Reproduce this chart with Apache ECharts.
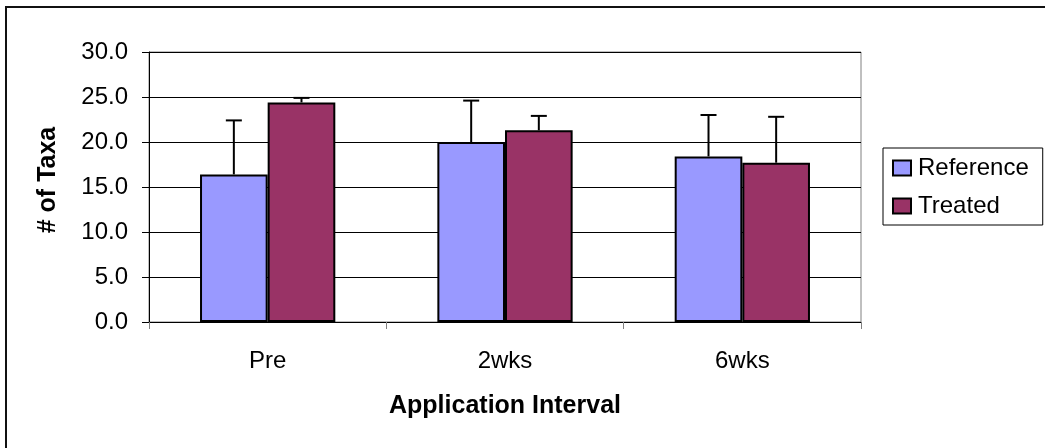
<!DOCTYPE html>
<html>
<head>
<meta charset="utf-8">
<script src="https://cdn.jsdelivr.net/npm/echarts@6/dist/echarts.min.js"></script>
<style>
html,body{margin:0;padding:0;background:#fff;}
#chart{width:1045px;height:448px;}
</style>
</head>
<body>
<div id="chart"></div>
<script>
const categories = ['Pre', '2wks', '6wks'];
const referenceMeans = [16.4, 20.0, 18.4];
const treatedMeans = [24.4, 21.3, 17.7];
const referenceErr = [6.0, 4.6, 4.6];
const treatedErr = [0.5, 1.6, 5.1];
const yTicks = [0, 5, 10, 15, 20, 25, 30];

const FONT = '"Liberation Sans", Arial, sans-serif';
const CAT_GAP = 0.43;

function errorSeries(name, means, errs, side) {
  return {
    type: 'custom',
    name: name,
    z: 1,
    silent: true,
    data: means.map((m, i) => [i, m, m + errs[i]]),
    renderItem: function (params, api) {
      const band = api.size([1, 0])[0];
      const barW = band * (1 - CAT_GAP) / 2;
      const base = api.coord([api.value(0), api.value(1)]);
      const top = api.coord([api.value(0), api.value(2)]);
      const x = base[0] + side * barW / 2;
      const cap = 8;
      return {
        type: 'group',
        children: [
          { type: 'line', shape: { x1: x, y1: base[1], x2: x, y2: top[1] },
            style: { stroke: '#000', lineWidth: 2 } },
          { type: 'line', shape: { x1: x - cap, y1: top[1], x2: x + cap, y2: top[1] },
            style: { stroke: '#000', lineWidth: 2 } }
        ]
      };
    }
  };
}

const chart = echarts.init(document.getElementById('chart'));
chart.setOption({
  animation: false,
  backgroundColor: '#fff',
  textStyle: { fontFamily: FONT, color: '#000' },
  graphic: [{
    type: 'rect',
    shape: { x: 6, y: 7, width: 1200, height: 600 },
    style: { fill: 'none', stroke: '#111', lineWidth: 2 },
    silent: true
  }],
  grid: {
    left: 149, top: 52, width: 712, height: 270,
    show: true, borderColor: '#808080', borderWidth: 1, backgroundColor: '#fff'
  },
  legend: {
    orient: 'vertical',
    left: 883, top: 148,
    data: ['Reference', 'Treated'],
    selectedMode: false,
    icon: 'rect',
    itemWidth: 18, itemHeight: 15,
    itemGap: 14,
    padding: [8, 14, 7, 9],
    borderColor: '#000', borderWidth: 1,
    textStyle: { fontFamily: FONT, fontSize: 24, color: '#000', lineHeight: 24, padding: [0, 0, 0, 2] },
    itemStyle: { borderColor: '#000', borderWidth: 2 }
  },
  xAxis: {
    type: 'category',
    data: categories,
    name: 'Application Interval',
    nameLocation: 'middle',
    nameGap: 72,
    nameTextStyle: { fontFamily: FONT, fontSize: 25, fontWeight: 'bold', color: '#000' },
    axisLine: { lineStyle: { color: '#000', width: 1 } },
    axisTick: { show: true, length: 7, lineStyle: { color: '#808080' } },
    axisLabel: { fontFamily: FONT, fontSize: 24, color: '#000', margin: 27 }
  },
  yAxis: {
    type: 'value',
    min: 0, max: 30, interval: 5,
    name: '# of Taxa',
    nameLocation: 'middle',
    nameGap: 88,
    nameRotate: 90,
    nameTextStyle: { fontFamily: FONT, fontSize: 25, fontWeight: 'bold', color: '#000', padding: [0, 0, 0, 14] },
    axisLine: { show: true, lineStyle: { color: '#000', width: 1 } },
    axisTick: { show: true, length: 7, lineStyle: { color: '#000' } },
    splitLine: { lineStyle: { color: '#000', width: 1 } },
    axisLabel: {
      fontFamily: FONT, fontSize: 24, color: '#000', margin: 21,
      formatter: v => yTicks.includes(v) ? v.toFixed(1) : ''
    }
  },
  series: [
    {
      name: 'Reference', type: 'bar', data: referenceMeans,
      barGap: '0%', barCategoryGap: (CAT_GAP * 100) + '%',
      itemStyle: { color: '#9999FF', borderColor: '#000', borderWidth: 2 },
      z: 2
    },
    {
      name: 'Treated', type: 'bar', data: treatedMeans,
      barGap: '0%', barCategoryGap: (CAT_GAP * 100) + '%',
      itemStyle: { color: '#993366', borderColor: '#000', borderWidth: 2 },
      z: 2
    },
    errorSeries('Reference SD', referenceMeans, referenceErr, -1),
    errorSeries('Treated SD', treatedMeans, treatedErr, 1)
  ]
});
</script>
</body>
</html>
